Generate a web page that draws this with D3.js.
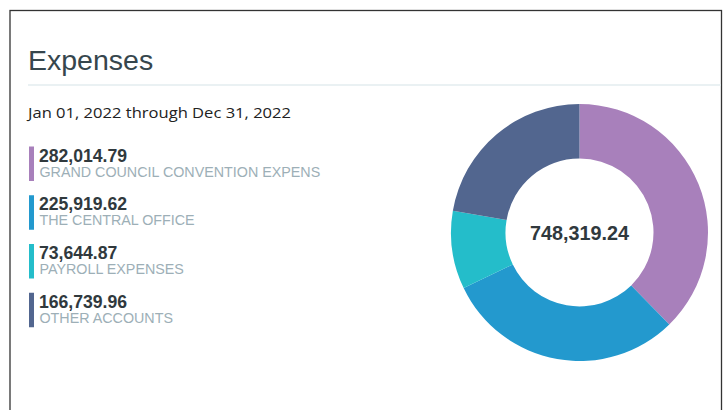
<!DOCTYPE html>
<html>
<head>
<meta charset="utf-8">
<script src="https://cdn.jsdelivr.net/npm/d3@7"></script>
<style>
  html, body { margin: 0; padding: 0; background: #fff; }
  svg { display: block; }
</style>
</head>
<body>
<svg id="chart" width="726" height="410"></svg>
<script>
// ---- data ----
const categories = ["GRAND COUNCIL CONVENTION EXPENS", "THE CENTRAL OFFICE", "PAYROLL EXPENSES", "OTHER ACCOUNTS"];
const values = [282014.79, 225919.62, 73644.87, 166739.96];
const colors = ["#a880bb", "#2399ce", "#24bdca", "#52668f"];
const title = "Expenses";
const subtitle = "Jan 01, 2022 through Dec 31, 2022";

const svg = d3.select("#chart");
const fmt = d3.format(",.2f");

// frame
svg.append("rect").attr("x", 10).attr("y", 10.5).attr("width", 711.5).attr("height", 420)
  .attr("fill", "#fff").attr("stroke", "#333").attr("stroke-width", 1.3);

// title
svg.append("text").attr("x", 28).attr("y", 70)
  .attr("font-family", "Liberation Sans, Arial, sans-serif").attr("font-size", 28.5)
  .attr("fill", "#36464d").text(title);

svg.append("line").attr("x1", 28).attr("x2", 721).attr("y1", 85).attr("y2", 85)
  .attr("stroke", "#e3ecef").attr("stroke-width", 1.5);

svg.append("text").attr("x", 28).attr("y", 118)
  .attr("font-family", "Open Sans, Noto Sans, sans-serif").attr("font-size", 15)
  .attr("fill", "#222").attr("textLength", 263).attr("lengthAdjust", "spacingAndGlyphs")
  .text(subtitle);

// legend
const legendY = d3.scaleBand().domain(d3.range(categories.length)).range([146.5, 341.5]).paddingInner(0);
const lg = svg.append("g");
categories.forEach((c, i) => {
  const y0 = legendY(i);
  lg.append("rect").attr("x", 29).attr("y", y0).attr("width", 5).attr("height", 34.5).attr("fill", colors[i]);
  lg.append("text").attr("x", 39).attr("y", y0 + 15)
    .attr("font-family", "Liberation Sans, Arial, sans-serif").attr("font-weight", "bold")
    .attr("font-size", 17.6).attr("fill", "#30393d").text(fmt(values[i]));
  lg.append("text").attr("x", 39.5).attr("y", y0 + 30)
    .attr("font-family", "Liberation Sans, Arial, sans-serif")
    .attr("font-size", 14.3).attr("fill", "#9dafb7").text(c);
});

// donut
const cx = 579.5, cy = 232.5, rOuter = 128.5, rInner = 74;
const pie = d3.pie().sort(null).value(d => d);
const arc = d3.arc().innerRadius(rInner).outerRadius(rOuter);
const g = svg.append("g").attr("transform", `translate(${cx},${cy})`);
g.selectAll("path").data(pie(values)).join("path")
  .attr("d", arc).attr("fill", (d, i) => colors[i]);

g.append("text").attr("text-anchor", "middle").attr("y", 7)
  .attr("font-family", "Liberation Sans, Arial, sans-serif").attr("font-weight", "bold")
  .attr("font-size", 19.8).attr("fill", "#30393d")
  .text(fmt(d3.sum(values)));
</script>
</body>
</html>
